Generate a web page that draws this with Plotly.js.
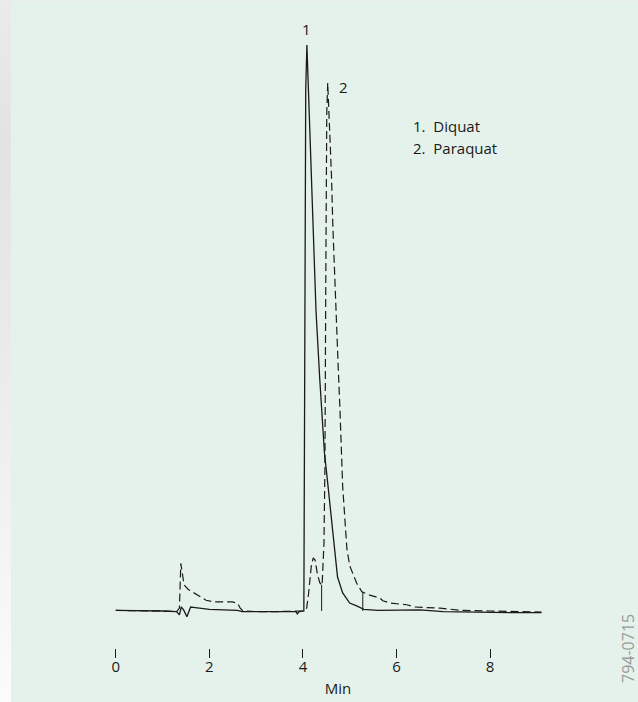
<!DOCTYPE html>
<html>
<head>
<meta charset="utf-8">
<script src="https://cdn.plot.ly/plotly-3.0.1.min.js"></script>
<style>
  html, body { margin: 0; padding: 0; }
  body {
    width: 638px; height: 702px; overflow: hidden; position: relative;
    background: linear-gradient(to bottom, #ebebeb 0%, #e3e3e3 20%, #e9e9e9 45%, #f3f3f3 75%, #fcfcfc 100%);
  }
  #chart { position: absolute; left: 11px; top: 1px; width: 627px; height: 701px; }
</style>
</head>
<body>
<div id="chart"></div>
<script>
// Retention time (min) and detector response (relative, Diquat peak = 100)
const diquatTime = [0, 0.5, 1.0, 1.3, 1.36, 1.40, 1.45, 1.52, 1.60, 1.70, 1.85, 2.0, 2.3, 2.6, 2.7, 3.0, 3.5, 3.85, 3.88, 3.92,
  4.02, 4.04, 4.06, 4.085, 4.10, 4.17, 4.28, 4.36, 4.46, 4.53, 4.61, 4.68, 4.74, 4.85, 5.0, 5.15, 5.3, 5.6, 6.0, 6.5, 7.0, 7.5, 8.0, 8.5, 9.1];
const diquatSignal = [0.1, 0.1, 0.0, -0.1, -0.7, 0.7, 0.2, -1.0, 0.7, 0.6, 0.4, 0.3, 0.2, 0.1, -0.1, -0.1, -0.1, -0.1, -0.5, -0.1,
  0, 50, 92, 100, 96.5, 78, 53, 41, 28, 22.6, 16.6, 10.8, 6.0, 3.2, 1.4, 0.9, 0.3, 0.1, 0.2, 0.2, -0.1, -0.2, -0.2, -0.3, -0.3];

const paraquatTime = [0, 0.5, 1.0, 1.3, 1.36, 1.39, 1.42, 1.46, 1.55, 1.63, 1.8, 1.93, 2.1, 2.3, 2.49, 2.6, 2.66, 2.72, 3.0, 3.5,
  4.0, 4.08, 4.12, 4.18, 4.22, 4.26, 4.31, 4.36, 4.41, 4.45, 4.47, 4.49, 4.51, 4.53, 4.56, 4.61, 4.64, 4.68, 4.71, 4.75, 4.79, 4.82,
  4.85, 4.94, 5.0, 5.15, 5.26, 5.43, 5.64, 5.71, 5.86, 6.22, 6.39, 6.93, 7.4, 8.0, 8.5, 9.1];
const paraquatSignal = [0.1, 0.1, 0.0, -0.1, 0.5, 8.4, 6.5, 4.6, 3.8, 3.4, 2.5, 1.9, 1.6, 1.6, 1.6, 1.4, 0.5, 0, -0.1, -0.1,
  0, 0.5, 3, 8, 9.4, 9.0, 6.5, 5, 4.5, 12, 25, 60, 88, 93.3, 88, 77, 68, 58, 53, 44, 36, 27,
  22, 11, 8, 4.9, 3.4, 2.8, 2.3, 1.8, 1.4, 1.1, 0.7, 0.5, 0.1, 0, -0.1, -0.2];

// Integrator drop lines (time, top of line)
const dropTime = [4.40, 5.28];
const dropTop = [4.6, 3.4];

const tickValues = [0, 2, 4, 6, 8];
const tickLabels = ['0', '2', '4', '6', '8'];

const peakLabels = ['1', '2'];
const peakLabelTime = [4.085, 4.87];
const peakLabelY = [100, 93.3];
const legendLines = ['1.\u00a0\u00a0Diquat', '2.\u00a0\u00a0Paraquat'];

const dropX = [], dropY = [];
dropTime.forEach((t, i) => { dropX.push(t, t, null); dropY.push(dropTop[i], 0, null); });

const ink = '#1a1a1a';
const traces = [
  { x: diquatTime, y: diquatSignal, mode: 'lines', line: { color: ink, width: 1.3 }, hoverinfo: 'skip' },
  { x: paraquatTime, y: paraquatSignal, mode: 'lines', line: { color: ink, width: 1.2, dash: '8px,4px' }, hoverinfo: 'skip' },
  { x: dropX, y: dropY, mode: 'lines', line: { color: ink, width: 1 }, hoverinfo: 'skip' }
];

const fam = '"Open Sans", "DejaVu Sans", sans-serif';
const f15 = { family: fam, size: 15, color: ink };

const layout = {
  width: 627, height: 701,
  margin: { l: 58, r: 31, t: 9, b: 54 },
  paper_bgcolor: '#e5f2eb', plot_bgcolor: 'rgba(0,0,0,0)',
  showlegend: false,
  font: f15,
  xaxis: {
    range: [-1, 10.5], tickvals: tickValues, ticktext: tickLabels,
    ticks: 'outside', ticklen: 9, tickwidth: 1, tickcolor: ink,
    ticklabelstandoff: -4,
    showline: false, showgrid: false, zeroline: false,
    tickfont: f15,
    title: { text: 'Min', font: f15, standoff: 8 }
  },
  yaxis: { range: [-6.54, 106.18], visible: false, showgrid: false, zeroline: false },
  annotations: [
    { x: peakLabelTime[0], y: peakLabelY[0], text: peakLabels[0], showarrow: false, yshift: 16, font: f15 },
    { x: peakLabelTime[1], y: peakLabelY[1], text: peakLabels[1], showarrow: false, yshift: -4, font: f15 },
    { x: 6.3, y: 85.2, text: legendLines[0], showarrow: false, xanchor: 'left', yshift: 3, font: f15 },
    { x: 6.3, y: 81.3, text: legendLines[1], showarrow: false, xanchor: 'left', yshift: 3, font: f15 },
    { xref: 'paper', yref: 'paper', x: 1.039, y: 0.0, text: '794-0715', textangle: -90, showarrow: false,
      xanchor: 'center', yanchor: 'middle', font: { family: fam, size: 16, color: '#9a9a9a' } }
  ]
};

Plotly.newPlot('chart', traces, layout, { staticPlot: true, displayModeBar: false });
</script>
</body>
</html>
